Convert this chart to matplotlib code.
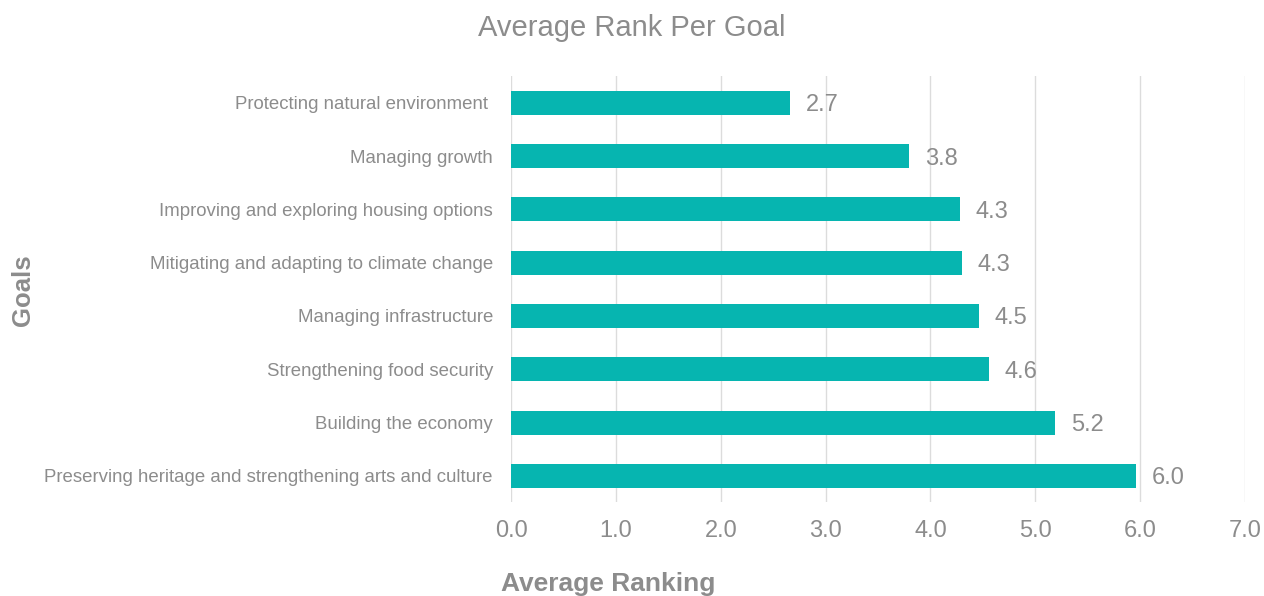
import matplotlib.pyplot as plt

goals = ['Protecting natural environment ',
         'Managing growth',
         'Improving and exploring housing options',
         'Mitigating and adapting to climate change',
         'Managing infrastructure',
         'Strengthening food security',
         'Building the economy',
         'Preserving heritage and strengthening arts and culture']
ranks = [2.66, 3.80, 4.28, 4.30, 4.46, 4.56, 5.19, 5.96]
ticks = [0, 1, 2, 3, 4, 5, 6, 7]

grey = '#8c8c8c'
teal = '#06b5b0'

plt.rcParams['font.family'] = ['Liberation Sans', 'DejaVu Sans']

fig = plt.figure(figsize=(12.64, 5.96), dpi=100)
ax = fig.add_axes([0.4043, 0.157, 0.985 - 0.4043, 0.872 - 0.157])

y = list(range(len(goals)))
ax.barh(y, ranks, height=0.45, color=teal, zorder=3)
for yi, r in zip(y, ranks):
    ax.text(r + 0.15, yi, '%.1f' % r, va='center_baseline', ha='left', fontsize=17, color=grey)

ax.set_xlim(0, 7)
ax.set_ylim(len(goals) - 0.5, -0.5)
ax.set_xticks(ticks)
ax.set_xticklabels(['%.1f' % t for t in ticks], fontsize=17, color=grey)
ax.set_yticks(y)
ax.set_yticklabels(goals, fontsize=13.4, color=grey)
ax.tick_params(axis='both', length=0)
ax.tick_params(axis='x', pad=13)
ax.tick_params(axis='y', pad=13)
ax.grid(axis='x', color='#dcdcdc', linewidth=1, zorder=0)
for s in ax.spines.values():
    s.set_visible(False)

fig.text(0.5, 0.953, 'Average Rank Per Goal', ha='center', va='center', fontsize=21, color=grey)
fig.text(0.481, 0.02, 'Average Ranking', ha='center', va='center', fontsize=19, color=grey, fontweight='bold')
fig.text(0.018, 0.513, 'Goals', ha='center', va='center', rotation=90, fontsize=18.5, color=grey, fontweight='bold')

fig.savefig('out.png', dpi=100)
